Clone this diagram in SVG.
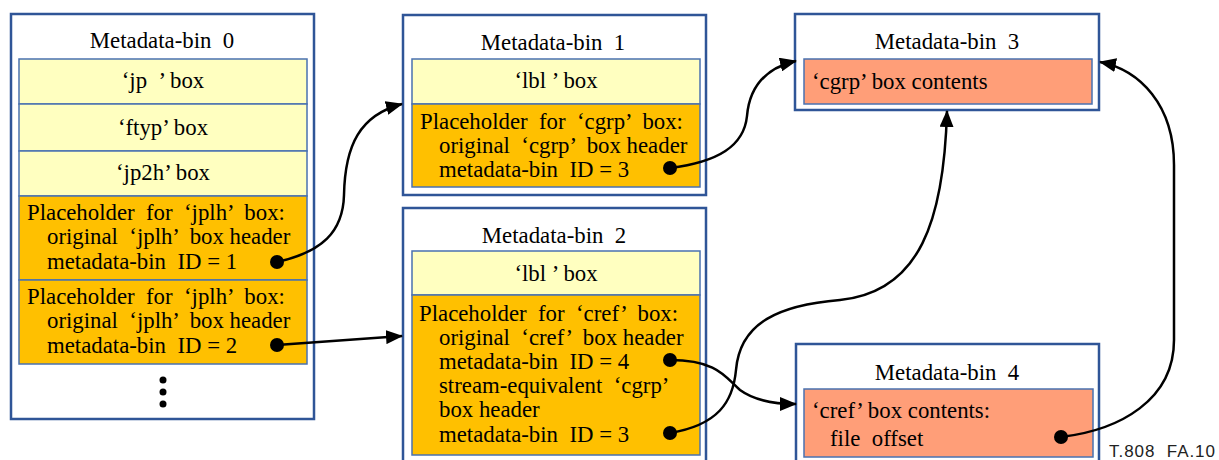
<svg xmlns="http://www.w3.org/2000/svg" width="1219" height="460" viewBox="0 0 1219 460">
<style>
.outer{fill:#fff;stroke:#2F5597;stroke-width:2.5}
.yel{fill:#FFFFC0;stroke:#4A72B0;stroke-width:1.5}
.org{fill:#FFC000;stroke:#4A72B0;stroke-width:1.5}
.sal{fill:#FF9E78;stroke:#4A72B0;stroke-width:1.5}
text{font-family:"Liberation Serif","Times New Roman",serif;font-size:22.8px;fill:#000}
.c{text-anchor:middle}
.lab{font-family:"Liberation Sans",Arial,sans-serif;font-size:17px;fill:#222}
.conn{fill:none;stroke:#000;stroke-width:2.5}
.dot{fill:#000}
</style>
<defs>
<marker id="ah" markerUnits="userSpaceOnUse" markerWidth="17" markerHeight="14" refX="16" refY="7" orient="auto">
<path d="M0,0 L17,7 L0,14 Z" fill="#000"/>
</marker>
</defs>

<g id="bin0">
<rect class="outer" x="11" y="14" width="303" height="405"/>
<text class="c" x="162" y="48" xml:space="preserve">Metadata-bin  0</text>
<rect class="yel" x="19" y="59" width="288" height="45"/>
<text class="c" x="163" y="88" xml:space="preserve">‘jp  ’ box</text>
<rect class="yel" x="19" y="104" width="288" height="47"/>
<text class="c" x="163" y="135" xml:space="preserve">‘ftyp’ box</text>
<rect class="yel" x="19" y="151" width="288" height="45"/>
<text class="c" x="163" y="180" xml:space="preserve">‘jp2h’ box</text>
<rect class="org" x="19" y="196" width="288" height="84"/>
<text x="27" y="220" xml:space="preserve">Placeholder  for  ‘jplh’  box:</text>
<text x="47" y="244" xml:space="preserve">original  ‘jplh’  box header</text>
<text x="47" y="269" xml:space="preserve">metadata-bin  ID = 1</text>
<rect class="org" x="19" y="280" width="288" height="84"/>
<text x="27" y="304" xml:space="preserve">Placeholder  for  ‘jplh’  box:</text>
<text x="47" y="328" xml:space="preserve">original  ‘jplh’  box header</text>
<text x="47" y="353" xml:space="preserve">metadata-bin  ID = 2</text>
<circle class="dot" cx="163" cy="380" r="3.5"/>
<circle class="dot" cx="163" cy="392" r="3.5"/>
<circle class="dot" cx="163" cy="404" r="3.5"/>
</g>

<g id="bin1">
<rect class="outer" x="403" y="15" width="303" height="180"/>
<text class="c" x="553" y="50" xml:space="preserve">Metadata-bin  1</text>
<rect class="yel" x="412" y="59" width="288" height="45"/>
<text class="c" x="556" y="88" xml:space="preserve">‘lbl ’ box</text>
<rect class="org" x="412" y="104" width="288" height="83"/>
<text x="420" y="129" xml:space="preserve">Placeholder  for  ‘cgrp’  box:</text>
<text x="439" y="153" xml:space="preserve">original  ‘cgrp’  box header</text>
<text x="439" y="177" xml:space="preserve">metadata-bin  ID = 3</text>
</g>

<g id="bin2">
<rect class="outer" x="403" y="208" width="303" height="270"/>
<text class="c" x="554" y="243" xml:space="preserve">Metadata-bin  2</text>
<rect class="yel" x="412" y="251" width="288" height="44"/>
<text class="c" x="556" y="281" xml:space="preserve">‘lbl ’ box</text>
<rect class="org" x="412" y="295" width="288" height="160"/>
<text x="419" y="321" xml:space="preserve">Placeholder  for  ‘cref’  box:</text>
<text x="439" y="345" xml:space="preserve">original  ‘cref’  box header</text>
<text x="439" y="369" xml:space="preserve">metadata-bin  ID = 4</text>
<text x="439" y="393" xml:space="preserve">stream-equivalent  ‘cgrp’</text>
<text x="439" y="417" xml:space="preserve">box header</text>
<text x="439" y="442" xml:space="preserve">metadata-bin  ID = 3</text>
</g>

<g id="bin3">
<rect class="outer" x="795" y="14" width="304" height="96"/>
<text class="c" x="947" y="49" xml:space="preserve">Metadata-bin  3</text>
<rect class="sal" x="804" y="59" width="288" height="45"/>
<text x="812" y="89" xml:space="preserve">‘cgrp’ box contents</text>
</g>

<g id="bin4">
<rect class="outer" x="796" y="344" width="303" height="134"/>
<text class="c" x="947" y="380" xml:space="preserve">Metadata-bin  4</text>
<rect class="sal" x="804" y="389" width="289" height="68"/>
<text x="812" y="418" xml:space="preserve">‘cref’ box contents:</text>
<text x="830" y="446" xml:space="preserve">file  offset</text>
</g>

<g id="connectors">
<path class="conn" d="M277,262 C322,252 343,232 344,195 C345,145 360,115 402,104" marker-end="url(#ah)"/>
<path class="conn" d="M277,345 L402,336" marker-end="url(#ah)"/>
<path class="conn" d="M670,168 C718,162 744,146 747,116 C750,82 770,67 796,61" marker-end="url(#ah)"/>
<path class="conn" d="M670,360 C718,360 726,378 740,390 C755,401 775,404 796,404" marker-end="url(#ah)"/>
<path class="conn" d="M670,433 C718,425 733,402 736,370 C740,322 780,305 840,300 C920,292 944,220 947,111" marker-end="url(#ah)"/>
<path class="conn" d="M1061,437 C1120,430 1174,400 1174,340 L1174,165 C1174,105 1140,70 1100,62" marker-end="url(#ah)"/>
<circle class="dot" cx="277" cy="262" r="7"/>
<circle class="dot" cx="277" cy="345" r="7"/>
<circle class="dot" cx="670" cy="168" r="7"/>
<circle class="dot" cx="670" cy="360" r="7"/>
<circle class="dot" cx="670" cy="433" r="7"/>
<circle class="dot" cx="1061" cy="437" r="7"/>
</g>

<text class="lab" x="1109" y="457" textLength="106" xml:space="preserve">T.808  FA.10</text>
</svg>
